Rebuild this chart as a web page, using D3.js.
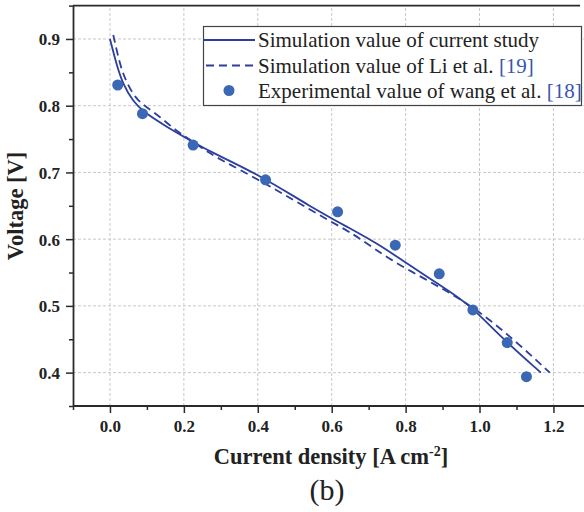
<!DOCTYPE html>
<html><head><meta charset="utf-8">
<script src="https://cdn.jsdelivr.net/npm/d3@7"></script>
<style>body{margin:0;background:#fff}svg{display:block}</style>
</head><body><svg id="c" width="584" height="512"></svg>
<script>
// Data
const expX = [0.021,0.088,0.225,0.421,0.616,0.772,0.891,0.982,1.075,1.127];
const expY = [0.831,0.788,0.741,0.689,0.641,0.591,0.548,0.494,0.445,0.394];
const simX = [0,0.018,0.036,0.063,0.09,0.153,0.208,0.271,0.406,0.541,0.65,0.722,0.803,0.884,0.972,1.056,1.166];
const simY = [0.9,0.861,0.831,0.806,0.791,0.7685,0.751,0.731,0.696,0.649,0.616,0.594,0.564,0.534,0.503,0.454,0.40];
const liX = [0.009,0.027,0.045,0.072,0.099,0.135,0.18,0.22,0.271,0.311,0.451,0.541,0.632,0.677,0.758,0.857,0.947,1.029,1.11,1.19];
const liY = [0.906,0.861,0.834,0.809,0.798,0.7835,0.762,0.748,0.728,0.716,0.674,0.644,0.616,0.601,0.569,0.539,0.511,0.479,0.441,0.40];
const xTicks = [0.0,0.2,0.4,0.6,0.8,1.0,1.2];
const xMinor = [-0.1,0.1,0.3,0.5,0.7,0.9,1.1];
const yTicks = [0.4,0.5,0.6,0.7,0.8,0.9];
const yMinor = [0.35,0.45,0.55,0.65,0.75,0.85,0.95];
const legendLabels = [
  ["Simulation value of current study", ""],
  ["Simulation value of Li et al. ", "[19]"],
  ["Experimental value of wang et al. ", "[18]"]
];

const svg = d3.select("#c");
const font = "'Liberation Serif', serif";
const x = d3.scaleLinear().domain([-0.1,1.28]).range([73,583]);
const y = d3.scaleLinear().domain([0.35,0.95]).range([406,5.6]);
const lineCol = "#2c3e9e", dotCol = "#3a68b4", axisCol = "#2a2a2a";

// grid
const g = svg.append("g");
g.selectAll(".gx").data(xTicks).join("line")
  .attr("x1",d=>x(d)).attr("x2",d=>x(d)).attr("y1",y(0.35)).attr("y2",y(0.95))
  .attr("stroke","#c8c8c8").attr("stroke-dasharray","3,2").attr("stroke-width",1);
g.selectAll(".gy").data(yTicks).join("line")
  .attr("y1",d=>y(d)).attr("y2",d=>y(d)).attr("x1",x(-0.1)).attr("x2",584)
  .attr("stroke","#c8c8c8").attr("stroke-dasharray","3,2").attr("stroke-width",1);

// axes
const xAxis = d3.axisBottom(x).tickValues(xTicks).tickFormat(d3.format(".1f")).tickSize(7).tickSizeOuter(0);
const xa = svg.append("g").attr("transform",`translate(0,${y(0.35)})`).call(xAxis);
xa.select(".domain").attr("d",`M${x(-0.1)},0H584`);
const xAxisMinor = d3.axisBottom(x).tickValues(xMinor).tickFormat("").tickSize(4).tickSizeOuter(0);
const xm = svg.append("g").attr("transform",`translate(0,${y(0.35)})`).call(xAxisMinor);
xm.select(".domain").remove();
const yAxis = d3.axisLeft(y).tickValues(yTicks).tickFormat(d3.format(".1f")).tickSize(7).tickSizeOuter(0);
const ya = svg.append("g").attr("transform",`translate(${x(-0.1)},0)`).call(yAxis);
const yAxisMinor = d3.axisLeft(y).tickValues(yMinor).tickFormat("").tickSize(4).tickSizeOuter(0);
const ym = svg.append("g").attr("transform",`translate(${x(-0.1)},0)`).call(yAxisMinor);
ym.select(".domain").remove();
[xa,xm,ya,ym].forEach(a=>{
  a.selectAll(".domain").attr("stroke",axisCol).attr("stroke-width",1.8);
  a.selectAll(".tick line").attr("stroke",axisCol).attr("stroke-width",1.5);
  a.selectAll("text").attr("font-family",font).attr("font-weight","bold").attr("font-size",17).attr("fill","#222");
});
xa.selectAll("text").attr("dy",null).attr("y",26);
ya.selectAll("text").attr("x",-13).attr("dy","0.35em");
// top frame
svg.append("line").attr("x1",x(-0.1)).attr("x2",580).attr("y1",y(0.95)).attr("y2",y(0.95))
  .attr("stroke",axisCol).attr("stroke-width",1.8);

// lines
const line = d3.line().x(d=>x(d[0])).y(d=>y(d[1])).curve(d3.curveBasis);
svg.append("path").datum(simX.map((v,i)=>[v,simY[i]])).attr("d",line)
  .attr("fill","none").attr("stroke",lineCol).attr("stroke-width",1.8);
svg.append("path").datum(liX.map((v,i)=>[v,liY[i]])).attr("d",line)
  .attr("fill","none").attr("stroke",lineCol).attr("stroke-width",1.8).attr("stroke-dasharray","8,5");
svg.selectAll(".pt").data(expX.map((v,i)=>[v,expY[i]])).join("circle")
  .attr("cx",d=>x(d[0])).attr("cy",d=>y(d[1])).attr("r",5.5).attr("fill",dotCol);

// legend
const lg = svg.append("g");
lg.append("rect").attr("x",203.5).attr("y",26.5).attr("width",378).attr("height",79)
  .attr("fill","#fff").attr("stroke","#444").attr("stroke-width",1.2);
const rowY = [40,65.5,90.5];
lg.append("line").attr("x1",204).attr("x2",255).attr("y1",rowY[0]).attr("y2",rowY[0])
  .attr("stroke",lineCol).attr("stroke-width",1.8);
lg.append("line").attr("x1",206).attr("x2",255).attr("y1",rowY[1]).attr("y2",rowY[1])
  .attr("stroke",lineCol).attr("stroke-width",1.8).attr("stroke-dasharray","8,5");
lg.append("circle").attr("cx",229).attr("cy",rowY[2]).attr("r",5.5).attr("fill",dotCol);
legendLabels.forEach((l,i)=>{
  const t = lg.append("text").attr("x",258).attr("y",rowY[i]+7)
    .attr("font-family",font).attr("font-size",21).attr("fill","#222");
  t.append("tspan").text(l[0]);
  if(l[1]) t.append("tspan").attr("fill","#3a55b0").text(l[1]);
});

// titles
const xt = svg.append("text").attr("x",331).attr("y",464).attr("text-anchor","middle")
  .attr("font-family",font).attr("font-weight","bold").attr("font-size",22.5).attr("fill","#222");
xt.append("tspan").text("Current density [A cm");
xt.append("tspan").attr("font-size",14).attr("dy",-8).text("-2");
xt.append("tspan").attr("dy",8).text("]");
svg.append("text").attr("transform","translate(23,206) rotate(-90)").attr("text-anchor","middle")
  .attr("font-family",font).attr("font-weight","bold").attr("font-size",22.5).attr("fill","#222")
  .text("Voltage [V]");
svg.append("text").attr("x",327).attr("y",500).attr("text-anchor","middle")
  .attr("font-family",font).attr("font-size",30).attr("fill","#222").text("(b)");
</script></body></html>
